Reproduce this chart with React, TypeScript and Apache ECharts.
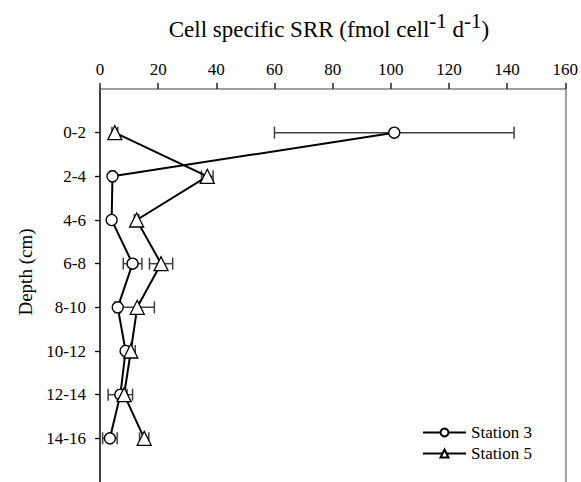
import React, { useEffect, useRef } from "react";
import * as echarts from "echarts";

const depths = ["0-2", "2-4", "4-6", "6-8", "8-10", "10-12", "12-14", "14-16"];
const depthPositions = [1, 2, 3, 4, 5, 6, 7, 8];
const station3 = [101.2, 4.3, 4.0, 11.2, 6.1, 8.8, 7.0, 3.4];
const station3Err = [41.2, 0.8, 0.6, 3.2, 1.0, 0.8, 4.2, 2.5];
const station5 = [5.1, 36.9, 12.6, 21.0, 12.8, 10.6, 8.3, 15.2];
const station5Err = [1.0, 2.0, 0.8, 4.0, 5.9, 1.5, 1.0, 1.6];
const seriesNames = ["Station 3", "Station 5"];

const FONT = "Times New Roman, Liberation Serif, serif";

const errRender = (params: any, api: any) => {
  const y = api.value(2);
  const lo = api.coord([api.value(0), y]);
  const hi = api.coord([api.value(1), y]);
  const style = { stroke: "#404040", lineWidth: 1.5, fill: "none" };
  return {
    type: "group",
    children: [
      { type: "line", shape: { x1: lo[0], y1: lo[1], x2: hi[0], y2: hi[1] }, style },
      { type: "line", shape: { x1: lo[0], y1: lo[1] - 6, x2: lo[0], y2: lo[1] + 6 }, style },
      { type: "line", shape: { x1: hi[0], y1: hi[1] - 6, x2: hi[0], y2: hi[1] + 6 }, style },
    ],
  };
};

export default function App() {
  const ref = useRef<HTMLDivElement>(null);
  useEffect(() => {
    if (!ref.current) return;
    const chart = echarts.init(ref.current, null, { renderer: "svg" });
    const lineData = (vals: number[]) => vals.map((v, i) => [v, depthPositions[i]]);
    const errData = (vals: number[], errs: number[]) =>
      vals.map((v, i) => [v - errs[i], v + errs[i], depthPositions[i]]);
    chart.setOption({
      animation: false,
      backgroundColor: "#ffffff",
      textStyle: { fontFamily: FONT },
      title: {
        text: "{m|Cell specific SRR (fmol cell}{s|-1}{m| d}{s|-1}{m|)}",
        left: 329,
        top: 16,
        padding: 0,
        textAlign: "center",
        textStyle: {
          fontFamily: FONT,
          fontWeight: "normal",
          rich: {
            m: { fontFamily: FONT, fontWeight: "normal", fontSize: 23, lineHeight: 25, verticalAlign: "bottom", color: "#000" },
            s: { fontFamily: FONT, fontWeight: "normal", fontSize: 21, lineHeight: 21, padding: [0, 0, 10, 0], verticalAlign: "bottom", color: "#000" },
          },
        },
      },
      graphic: [
        {
          type: "text",
          x: 25,
          y: 272,
          rotation: Math.PI / 2,
          style: {
            text: "Depth (cm)",
            fontFamily: FONT,
            fontSize: 19,
            fill: "#000",
            align: "center",
            verticalAlign: "middle",
          },
        },
      ],
      legend: {
        data: seriesNames,
        orient: "vertical",
        left: 417,
        top: 419,
        itemWidth: 43,
        itemHeight: 10,
        itemGap: 4,
        textStyle: { fontFamily: FONT, fontSize: 17, color: "#000", lineHeight: 11 },
      },
      grid: { left: 100, top: 89, right: 14, height: 396 },
      xAxis: {
        type: "value",
        position: "top",
        min: 0,
        max: 160,
        interval: 20,
        splitLine: { show: false },
        axisLine: { show: true, lineStyle: { color: "#808080", width: 1.5 } },
        axisTick: { show: true, inside: false, length: 6, lineStyle: { color: "#222", width: 1.5 } },
        axisLabel: { fontFamily: FONT, fontSize: 17, color: "#000", margin: 11 },
      },
      yAxis: [
        {
          type: "value",
          inverse: true,
          min: 0,
          max: 9,
          interval: 1,
          splitLine: { show: false },
          axisLine: { show: true, lineStyle: { color: "#000", width: 1.5 } },
          axisTick: { show: true, length: 5, customValues: depthPositions, lineStyle: { color: "#000", width: 1.3 } },
          axisLabel: {
            customValues: depthPositions,
            fontFamily: FONT,
            fontSize: 17,
            color: "#000",
            margin: 14,
            formatter: (v: number) => depths[Math.round(v) - 1] ?? "",
          },
        },
        {
          type: "value",
          position: "right",
          inverse: true,
          min: 0,
          max: 9,
          interval: 1,
          splitLine: { show: false },
          axisLine: { show: true, lineStyle: { color: "#808080", width: 1.5 } },
          axisTick: { show: false },
          axisLabel: { show: false },
        },
      ],
      series: [
        {
          name: "Station 3 error",
          type: "custom",
          renderItem: errRender,
          encode: { x: [0, 1], y: 2 },
          data: errData(station3, station3Err),
          z: 1,
        },
        {
          name: "Station 5 error",
          type: "custom",
          renderItem: errRender,
          encode: { x: [0, 1], y: 2 },
          data: errData(station5, station5Err),
          z: 1,
        },
        {
          name: seriesNames[0],
          type: "line",
          data: lineData(station3),
          symbol: "circle",
          symbolSize: 11,
          lineStyle: { color: "#000", width: 2 },
          itemStyle: { color: "#fff", borderColor: "#000", borderWidth: 1.3 },
          z: 3,
        },
        {
          name: seriesNames[1],
          type: "line",
          data: lineData(station5),
          symbol: "triangle",
          symbolSize: 14,
          lineStyle: { color: "#000", width: 2 },
          itemStyle: { color: "#fff", borderColor: "#000", borderWidth: 1.3 },
          z: 3,
        },
      ],
    });
    return () => chart.dispose();
  }, []);
  return (
    <div
      ref={ref}
      style={{ position: "fixed", left: 0, top: 0, width: 581, height: 482, background: "#fff" }}
    />
  );
}
